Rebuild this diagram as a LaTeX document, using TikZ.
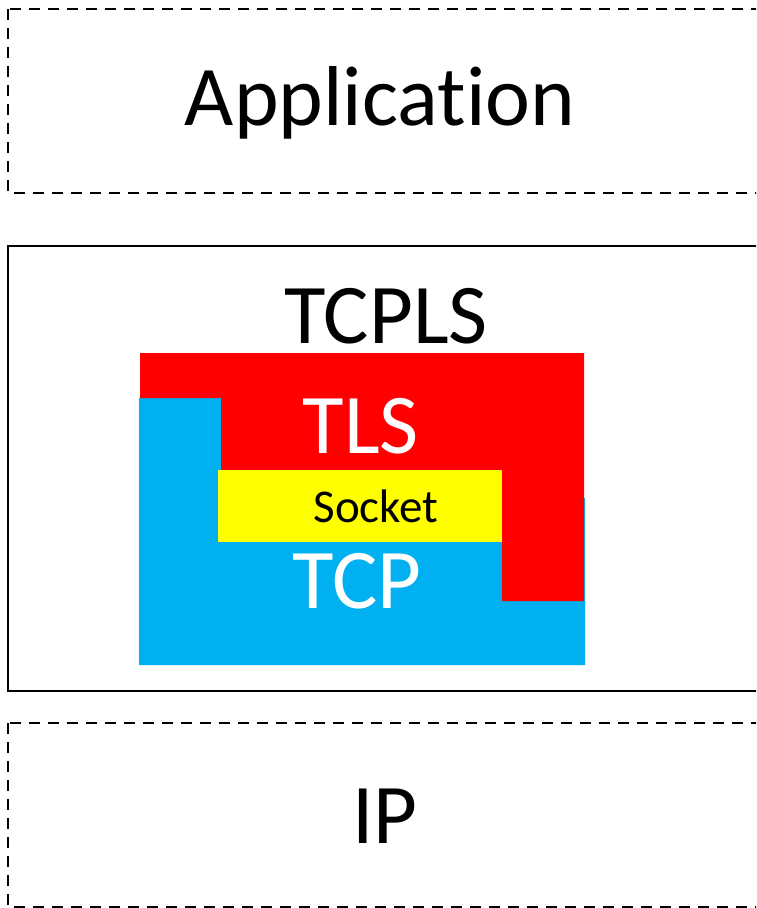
\documentclass[tikz,border=0pt]{standalone}
\usepackage{fontspec}
\setmainfont{Carlito}[Ligatures={NoCommon}]
\definecolor{tlsred}{HTML}{FF0000}
\definecolor{tcpblue}{HTML}{00B0F0}
\definecolor{sockyellow}{HTML}{FFFF00}
\tikzset{
  layerdashed/.style={draw=black, line width=2.4pt, dash pattern=on 11pt off 8pt},
  layersolid/.style={draw=black, line width=2.4pt},
  bigtext/.style={anchor=base, inner sep=0pt, font=\fontsize{85}{92}\selectfont},
  socktext/.style={anchor=base, inner sep=0pt, font=\fontsize{47}{52}\selectfont},
}
\begin{document}
\begin{tikzpicture}[x=1pt, y=-1pt]
  \useasboundingbox (0,0) rectangle (756,908);
  \clip (0,0) rectangle (756,908);

  % layer frames (they run past the right edge)
  \draw[layerdashed] (8,9) rectangle (790,193);
  \draw[layersolid] (8,246) rectangle (790,691);
  \draw[layerdashed] (8,723) rectangle (790,907);

  % TCP block (blue)
  \fill[tcpblue] (139,398) -- (221,398) -- (221,498) -- (585,498)
                 -- (585,665) -- (139,665) -- cycle;
  % TLS block (red), wrapping around the socket
  \fill[tlsred] (140,353) -- (584,353) -- (584,601) -- (502,601)
                -- (502,470) -- (221,470) -- (221,398) -- (140,398) -- cycle;
  % socket
  \fill[sockyellow] (218,470) rectangle (502,542);

  % labels
  \node[bigtext] (app) at (380,125) {Application};
  \node[bigtext] (tcpls) at (386,343) {TCPLS};
  \node[bigtext, text=white] (tls) at (361,453) {TLS};
  \node[socktext] (sock) at (376,522) {Socket};
  \node[bigtext, text=white] (tcp) at (357,608) {TCP};
  \node[bigtext] (ip) at (385,843) {IP};
\end{tikzpicture}
\end{document}
